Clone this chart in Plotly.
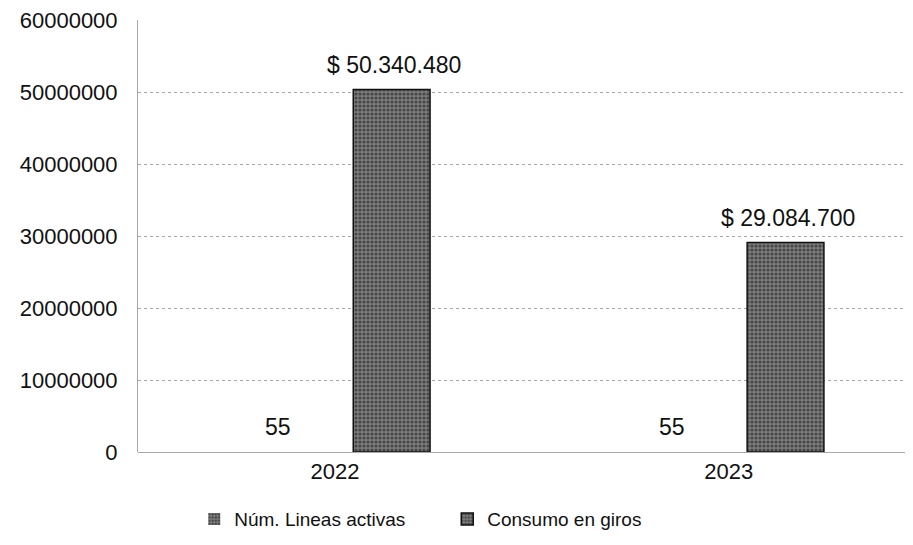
import plotly.graph_objects as go

years = ["2022", "2023"]
lineas_activas = [55, 55]
consumo_giros = [50340480, 29084700]
y_ticks = [0, 10000000, 20000000, 30000000, 40000000, 50000000, 60000000]

def peso(v):
    return "$ " + f"{v:,}".replace(",", ".")

font_family = "Liberation Sans, Arial, sans-serif"
bar_pattern = dict(shape=".", fgcolor="#111", bgcolor="#7c7c7c", size=4, solidity=0.5)

fig = go.Figure()
fig.add_trace(go.Bar(
    x=years, y=lineas_activas, name="Núm. Lineas activas",
    marker=dict(color="#4a4a4a", line=dict(color="#111", width=0), pattern=bar_pattern),
))
fig.add_trace(go.Bar(
    x=years, y=consumo_giros, name="Consumo en giros",
    marker=dict(color="#4a4a4a", line=dict(color="#111", width=1.5), pattern=bar_pattern),
))

# data labels, placed at each bar's value (category serial number) via the axes
for i, v in enumerate(lineas_activas):
    fig.add_annotation(x=i, y=v, xref="x", yref="y", text=str(v), showarrow=False,
                       xshift=-57, yshift=10, yanchor="bottom",
                       font=dict(size=23, color="#111"))
for i, v in enumerate(consumo_giros):
    fig.add_annotation(x=i, y=v, xref="x", yref="y", text=peso(v), showarrow=False,
                       xshift=59, yshift=10, yanchor="bottom",
                       font=dict(size=23, color="#111"))

fig.update_layout(
    width=913, height=545,
    margin=dict(l=130, r=11, t=12, b=101, autoexpand=False),
    paper_bgcolor="white", plot_bgcolor="white",
    barmode="group", bargap=0.424, bargroupgap=0.323,
    font=dict(family=font_family, color="#111"),
    showlegend=True,
    legend=dict(orientation="h", xref="container", x=0.204, xanchor="left",
                yref="container", y=0.062, yanchor="middle",
                font=dict(size=19, color="#111"), itemwidth=30, traceorder="normal",
                entrywidth=208, entrywidthmode="pixels"),
)
fig.update_xaxes(
    type="category", range=[-0.5, 1.46], automargin=False,
    showgrid=False, showline=False, ticks="", ticklabelstandoff=4,
    tickfont=dict(size=22, color="#111"),
)
fig.update_yaxes(
    range=[0, 60000000], tickvals=y_ticks, ticktext=[str(v) for v in y_ticks],
    automargin=False, ticklabeloverflow="allow",
    showgrid=True, gridcolor="#a8a8a8", griddash="dot", gridwidth=1,
    zeroline=True, zerolinecolor="#a8a8a8", zerolinewidth=1,
    showline=True, linecolor="#a8a8a8", linewidth=1,
    tickfont=dict(size=22, color="#111"), ticks="", ticklabelstandoff=15,
)
fig.write_html("out.html")
